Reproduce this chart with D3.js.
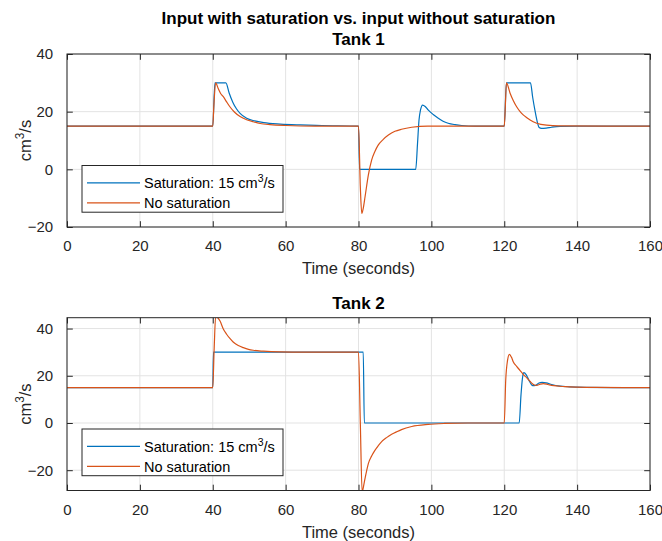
<!DOCTYPE html>
<html>
<head>
<meta charset="utf-8">
<script src="https://cdn.jsdelivr.net/npm/d3@7"></script>
<style>
  body { margin: 0; background: #fff; }
  svg { display: block; font-family: "Liberation Sans", Arial, Helvetica, sans-serif; }
</style>
</head>
<body>
<svg id="chart" width="662" height="541"></svg>
<script>
// ---- data -------------------------------------------------------------
const xTicks = [0, 20, 40, 60, 80, 100, 120, 140, 160];
const yTicks = [-20, 0, 20, 40];
const seriesNames = ["Saturation: 15 cm", "No saturation"];

// Tank 1, saturated input
const tank1SatT = [0, 40, 40.6, 43.6, 44.5, 45.5, 46.5, 47.5, 49.3, 51.5, 54, 58.5, 64, 70, 80,
  80.3, 95.7, 96.2, 96.6, 97.0, 97.6, 98.3, 99.1, 100.5, 101.9, 103.2, 104.6, 106.5, 108.3, 112, 120,
  120.6, 127.2, 127.8, 128.4, 129.0, 129.6, 130.2, 131.5, 133, 135.3, 140, 160];
const tank1SatV = [15, 15, 30, 30, 26.5, 23.3, 21, 19.4, 17.7, 16.8, 16.2, 15.7, 15.4, 15.2, 15,
  0, 0, 9, 17, 20.5, 22.3, 21.8, 20.6, 19, 17.7, 16.7, 16, 15.5, 15.2, 15, 15,
  30, 30, 25, 20.6, 16.8, 14.5, 14.2, 14.3, 14.6, 14.9, 15, 15];

// Tank 1, unsaturated input
const tank1RawT = [0, 40, 40.3, 40.8, 41.5, 42.2, 42.9, 43.8, 44.7, 46, 47.5, 49.3, 51.1, 53, 55.7, 60, 68, 80,
  80.5, 80.9, 81.3, 81.8, 82.7, 83.6, 84.5, 85.4, 86.8, 88.2, 90, 91.8, 94.6, 99, 120,
  120.3, 120.6, 121.6, 122.5, 123.4, 124.3, 125.2, 126.2, 127.1, 128.9, 131.6, 135, 160];
const tank1RawV = [15, 15, 22, 30, 28, 26.2, 25.2, 23.4, 21.7, 19.8, 18.3, 17.2, 16.5, 15.9, 15.5, 15.2, 15, 15,
  -6, -15.3, -13.5, -9.5, -2, 3.2, 6.2, 8.4, 10.4, 11.9, 13.2, 13.9, 14.6, 15, 15,
  22, 30, 26.4, 23.8, 21.7, 20.1, 18.9, 17.9, 17.1, 16, 15.3, 15.05, 15];

// Tank 2, saturated input
const tank2SatT = [0, 40, 40.2, 81.3, 81.6, 124.1, 124.6, 125.0, 125.4, 126, 126.8, 127.8, 128.6, 129.4,
  130.4, 131.5, 133, 135.3, 138, 142, 150, 160];
const tank2SatV = [15, 15, 30, 30, 0, 0, 12, 19, 21.3, 20.5, 18, 15.8, 15.9, 16.8,
  17.2, 17, 16.3, 15.6, 15.3, 15.1, 15, 15];

// Tank 2, unsaturated input
const tank2RawT = [0, 40, 40.4, 40.8, 41.4, 42, 42.9, 43.8, 44.7, 45.6, 47, 48.4, 49.8, 51.1, 53.9, 58.5, 65, 80,
  80.5, 81.0, 81.6, 82.2, 82.7, 83.6, 84.5, 85.4, 86.3, 87.7, 89.1, 90.5, 91.8, 94.6, 99.1, 103.6, 110, 120,
  120.4, 120.9, 121.4, 122.0, 122.5, 123.4, 124.3, 125.2, 126.2, 127.1, 128, 128.9, 129.8, 130.7, 132, 133,
  136.7, 140, 145, 160];
const tank2RawV = [15, 15, 32, 45.2, 44.5, 43.2, 39.8, 37.6, 35.8, 34.3, 32.8, 31.9, 31.2, 30.8, 30.4, 30.1, 30, 30,
  0, -29.2, -25, -20.5, -17.2, -14, -11.6, -9.7, -8, -6.2, -4.8, -3.7, -2.8, -1.5, -0.6, -0.2, 0, 0,
  18, 26.5, 29.1, 27.8, 25.8, 24, 22.3, 20.6, 19.1, 17.6, 16.3, 15.9, 16.4, 16.7, 16.3, 15.9,
  15.4, 15.2, 15.05, 15];

const tank1Limits = [-20, 40];
const tank2Limits = [-28.6, 44.6];

// ---- drawing ----------------------------------------------------------
const svg = d3.select("#chart");
const AX = "#262626";
const BLUE = "#0072BD";
const ORANGE = "#D95319";
const GRID = "#e3e3e3";

const zip = (t, v) => t.map((d, i) => ({ t: d, v: v[i] }));

svg.append("text")
  .attr("x", 358.5).attr("y", 24)
  .attr("text-anchor", "middle")
  .attr("font-size", 17).attr("font-weight", "bold").attr("fill", "#000")
  .text("Input with saturation vs. input without saturation");

function superLabel(sel, base, after, size) {
  sel.append("tspan").text(base);
  sel.append("tspan").attr("font-size", size * 0.72).attr("dy", -size * 0.4).text("3");
  sel.append("tspan").attr("dy", size * 0.4).text(after);
}

function panel(cfg) {
  const x = d3.scaleLinear().domain([0, 160]).range([67, 650]);
  const y = d3.scaleLinear().domain(cfg.limits).range([cfg.bottom, cfg.top]);
  const g = svg.append("g");
  const clipId = "clip-" + cfg.id;

  g.append("clipPath").attr("id", clipId)
    .append("rect")
    .attr("x", x.range()[0]).attr("y", cfg.top)
    .attr("width", x.range()[1] - x.range()[0]).attr("height", cfg.bottom - cfg.top);

  // grid
  g.append("g").selectAll("line").data(xTicks).join("line")
    .attr("x1", d => x(d)).attr("x2", d => x(d))
    .attr("y1", cfg.top).attr("y2", cfg.bottom)
    .attr("stroke", GRID).attr("stroke-width", 1);
  g.append("g").selectAll("line").data(yTicks.filter(d => d >= cfg.limits[0] && d <= cfg.limits[1])).join("line")
    .attr("x1", x.range()[0]).attr("x2", x.range()[1])
    .attr("y1", d => y(d)).attr("y2", d => y(d))
    .attr("stroke", GRID).attr("stroke-width", 1);

  // curves
  const line = d3.line().x(d => x(d.t)).y(d => y(d.v)).curve(d3.curveMonotoneX);
  const curves = g.append("g").attr("clip-path", `url(#${clipId})`);
  curves.append("path").datum(zip(cfg.satT, cfg.satV))
    .attr("d", line).attr("fill", "none").attr("stroke", BLUE).attr("stroke-width", 1.2);
  curves.append("path").datum(zip(cfg.rawT, cfg.rawV))
    .attr("d", line).attr("fill", "none").attr("stroke", ORANGE).attr("stroke-width", 1.2);

  // axes: bottom and left carry labels, top and right carry only ticks (all inward)
  const tickLen = 5.8;
  const yT = yTicks.filter(d => d >= cfg.limits[0] && d <= cfg.limits[1]);
  const xb = d3.axisBottom(x).tickValues(xTicks).tickSize(-tickLen).tickPadding(tickLen + 8);
  const xt = d3.axisTop(x).tickValues(xTicks).tickSize(-tickLen).tickFormat("");
  const yl = d3.axisLeft(y).tickValues(yT).tickSize(-tickLen).tickPadding(tickLen + 8);
  const yr = d3.axisRight(y).tickValues(yT).tickSize(-tickLen).tickFormat("");

  const axes = [
    g.append("g").attr("transform", `translate(0,${cfg.bottom})`).call(xb),
    g.append("g").attr("transform", `translate(0,${cfg.top})`).call(xt),
    g.append("g").attr("transform", `translate(${x.range()[0]},0)`).call(yl),
    g.append("g").attr("transform", `translate(${x.range()[1]},0)`).call(yr)
  ];
  axes.forEach(a => {
    a.select(".domain").remove();
    a.selectAll("line").attr("stroke", AX).attr("stroke-width", 1);
    a.selectAll("text").attr("fill", AX).attr("font-size", 15)
      .attr("font-family", "Liberation Sans, Arial, sans-serif");
  });
  axes[0].selectAll("text").attr("dy", "0.71em");

  g.append("rect")
    .attr("x", x.range()[0]).attr("y", cfg.top)
    .attr("width", x.range()[1] - x.range()[0]).attr("height", cfg.bottom - cfg.top)
    .attr("fill", "none").attr("stroke", AX).attr("stroke-width", 1);

  // panel title
  g.append("text")
    .attr("x", 358.5).attr("y", cfg.top - 9)
    .attr("text-anchor", "middle")
    .attr("font-size", 17).attr("font-weight", "bold").attr("fill", "#000")
    .text(cfg.title);

  // x label
  g.append("text")
    .attr("x", 358.5).attr("y", cfg.bottom + 47)
    .attr("text-anchor", "middle")
    .attr("font-size", 16.5).attr("fill", AX)
    .text("Time (seconds)");

  // y label
  const ymid = (cfg.top + cfg.bottom) / 2;
  const yl2 = g.append("text")
    .attr("transform", `translate(31,${ymid}) rotate(-90)`)
    .attr("text-anchor", "middle")
    .attr("font-size", 16.5).attr("fill", AX);
  superLabel(yl2, "cm", "/s", 16.5);

  // legend
  const lgTop = cfg.bottom - 14.8 - 46.7;
  const lg = g.append("g");
  lg.append("rect")
    .attr("x", 82).attr("y", lgTop).attr("width", 201).attr("height", 46.7)
    .attr("fill", "#fff").attr("stroke", AX).attr("stroke-width", 1);
  [BLUE, ORANGE].forEach((c, i) => {
    const cy = lgTop + 17.4 + i * 20;
    lg.append("line").attr("x1", 87).attr("x2", 140).attr("y1", cy).attr("y2", cy)
      .attr("stroke", c).attr("stroke-width", 1.2);
    const t = lg.append("text").attr("x", 144).attr("y", cy + 5.2)
      .attr("font-size", 14.5).attr("fill", "#000");
    if (i === 0) superLabel(t, seriesNames[0], "/s", 14.5);
    else t.text(seriesNames[1]);
  });
}

panel({ id: "t1", title: "Tank 1", top: 54, bottom: 227, limits: tank1Limits,
  satT: tank1SatT, satV: tank1SatV, rawT: tank1RawT, rawV: tank1RawV });
panel({ id: "t2", title: "Tank 2", top: 317.7, bottom: 490.5, limits: tank2Limits,
  satT: tank2SatT, satV: tank2SatV, rawT: tank2RawT, rawV: tank2RawV });
</script>
</body>
</html>
